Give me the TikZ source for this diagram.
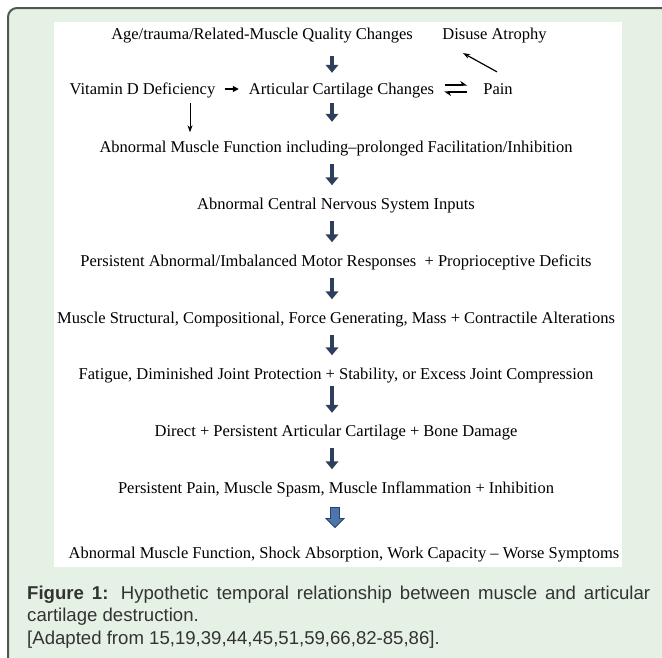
\documentclass[tikz,border=0pt]{standalone}
\usepackage{fontspec}
\setmainfont{Liberation Serif}
\newfontfamily\capfont{Liberation Sans}
\usepackage{xcolor}
\usetikzlibrary{arrows.meta}
\usetikzlibrary{calc}

\hyphenpenalty=10000
\exhyphenpenalty=10000

\definecolor{panelgreen}{RGB}{230,241,230}
\definecolor{panelline}{RGB}{85,85,85}
\definecolor{arrowblue}{RGB}{45,63,92}
\definecolor{blockfill}{RGB}{78,118,172}
\definecolor{blockline}{RGB}{40,66,105}
\definecolor{captext}{RGB}{51,51,51}

\tikzset{
  stage/.style={inner sep=0pt, text height=13pt, text depth=2pt,
    font=\fontsize{16.5}{19}\selectfont},
  bigarrow/.style={draw=arrowblue, line width=4.5pt,
    -{Triangle[width=12.5pt,length=8pt]}, shorten <=9pt, shorten >=11pt},
  thinarrow/.style={draw=black, line width=0.9pt, -{Stealth[length=7pt,width=5pt]}},
  harp/.style={draw=black, line width=1.3pt, -{Stealth[harpoon,length=6pt,width=8pt]}}
}

\begin{document}
\begin{tikzpicture}[x=1pt,y=-1pt]

\useasboundingbox (0,0) rectangle (662,657);
\clip (0,0) rectangle (662,657);

% panel
\fill[white] (0,0) rectangle (662,657);
\fill[panelgreen, rounded corners=9pt] (8,8) rectangle (700,700);
\draw[panelline, line width=2pt, rounded corners=9pt] (8,700) -- (8,8) -- (700,8);
\fill[white] (54,22) rectangle (622,567);

% top rows
\node[stage] (age) at (262,34) {Age/trauma/Related-Muscle Quality Changes};
\node[stage] (atrophy) at (494.5,34) {Disuse Atrophy};
\node[stage] (vit) at (142.5,89) {Vitamin D Deficiency};
\node[stage] (artic) at (341.5,89) {Articular Cartilage Changes};
\node[stage] (pain) at (498,89) {Pain};

% main chain
\node[stage] (l3) at (336,147) {Abnormal Muscle Function including–prolonged Facilitation/Inhibition};
\node[stage] (l4) at (336,204) {Abnormal Central Nervous System Inputs};
\node[stage] (l5) at (336,261) {Persistent Abnormal/Imbalanced Motor Responses\ \ + Proprioceptive Deficits};
\node[stage] (l6) at (336,318) {Muscle Structural, Compositional, Force Generating, Mass + Contractile Alterations};
\node[stage] (l7) at (336,374) {Fatigue, Diminished Joint Protection + Stability, or Excess Joint Compression};
\node[stage] (l8) at (336,431) {Direct + Persistent Articular Cartilage + Bone Damage};
\node[stage] (l9) at (336,488) {Persistent Pain, Muscle Spasm, Muscle Inflammation + Inhibition};
\node[stage] (l10) at (344,553) {Abnormal Muscle Function, Shock Absorption, Work Capacity -- Worse Symptoms};

% arrows
\draw[bigarrow, shorten <=14pt, shorten >=8.5pt] ([xshift=-4pt]age.south -| l3.north) -- ([xshift=-4pt]artic.north -| l3.north);
\draw[bigarrow, shorten <=6.5pt, shorten >=17.5pt] ([xshift=-4pt]artic.south -| l3.north) -- ([xshift=-4pt]l3.north);
\draw[bigarrow] ([xshift=-4pt]l3.south) -- ([xshift=-4pt]l4.north);
\draw[bigarrow] ([xshift=-4pt]l4.south) -- ([xshift=-4pt]l5.north);
\draw[bigarrow] ([xshift=-4pt]l5.south) -- ([xshift=-4pt]l6.north);
\draw[bigarrow] ([xshift=-4pt]l6.south) -- ([xshift=-4pt]l7.north);
\draw[bigarrow, shorten <=4pt, shorten >=10.5pt] ([xshift=-4pt]l7.south) -- ([xshift=-4pt]l8.north);
\draw[bigarrow] ([xshift=-4pt]l8.south) -- ([xshift=-4pt]l9.north);

% block arrow to the last line
\coordinate (blk) at ($(l9.south)!0.5!(l10.north)+(-5,-3)$);
\draw[draw=blockline, fill=blockfill, line width=0.8pt, line join=miter]
  ([shift={(-4.5,-10)}]blk) -- ([shift={(4.5,-10)}]blk) -- ([shift={(4.5,1)}]blk)
  -- ([shift={(9,1)}]blk) -- ([shift={(0,10)}]blk) -- ([shift={(-9,1)}]blk)
  -- ([shift={(-4.5,1)}]blk) -- cycle;

\draw[thinarrow, line width=1.2pt, -{Triangle[length=6pt,width=6pt]}, shorten <=9pt, shorten >=10pt] (vit) -- (artic);
\draw[thinarrow, shorten <=6pt, shorten >=7pt] ([xshift=47.5pt]vit.south) -- ([xshift=47.5pt]vit.south |- l3.north);
\draw[thinarrow, line width=1.2pt, shorten <=19.5pt, shorten >=23.5pt] ([xshift=16pt]pain.north) -- ([xshift=-52pt]atrophy.south);
\draw[harp, shorten <=11pt, shorten >=16pt] ([yshift=4pt]artic.east) -- ([yshift=4pt]pain.west);
\draw[harp, shorten <=16pt, shorten >=10pt] ([yshift=-3pt]pain.west) -- ([yshift=-3pt]artic.east);

% caption
\node[anchor=north west, inner sep=0pt, text width=623pt, align=justify, text=captext,
  font=\capfont\fontsize{18.6}{22.3}\selectfont] (cap) at (27,586)
  {\textbf{Figure 1:} Hypothetic temporal relationship between muscle and articular \mbox{cartilage} destruction.\\
  {[Adapted from 15,19,39,44,45,51,59,66,82-85,86].}};

\end{tikzpicture}
\end{document}
